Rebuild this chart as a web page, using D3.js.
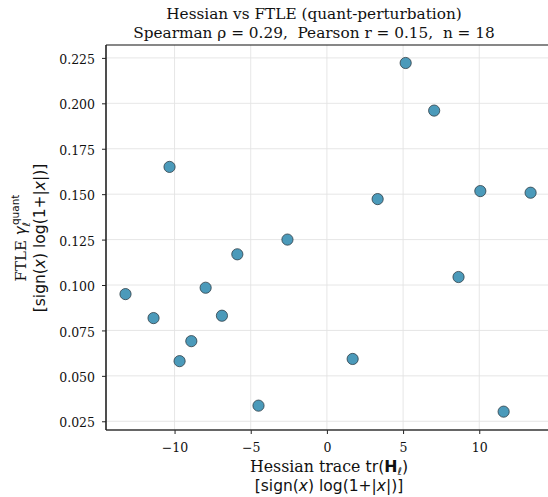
<!DOCTYPE html>
<html>
<head>
<meta charset="utf-8">
<script src="https://cdn.jsdelivr.net/npm/d3@7"></script>
<style>
  body { margin: 0; background: #fff; }
  svg { display: block; }
  text { white-space: pre; }
  .serif { font-family: "DejaVu Serif", serif; }
  .sans { font-family: "DejaVu Sans", sans-serif; }
</style>
</head>
<body>
<svg id="chart"></svg>
<script>
// hessian trace (x) and FTLE (y), both sign(x)log(1+|x|)
var hessTrace = [-13.22, -11.38, -10.33, -9.67, -8.9, -7.96, -6.89, -5.88, -4.49,
                 -2.59, 1.69, 3.33, 5.17, 7.04, 8.64, 10.07, 11.6, 13.37];
var ftle = [0.095, 0.0818, 0.165, 0.0581, 0.0691, 0.0985, 0.0831, 0.1169, 0.0336,
            0.125, 0.0593, 0.1473, 0.2222, 0.196, 0.1044, 0.1517, 0.0303, 0.1508];
var xTicks = [-10, -5, 0, 5, 10];
var yTicks = [0.025, 0.05, 0.075, 0.1, 0.125, 0.15, 0.175, 0.2, 0.225];

var W = 548, H = 497;
var margin = {top: 45, right: -12, bottom: 67, left: 106};
var width = W - margin.left - margin.right,
    height = H - margin.top - margin.bottom;

var svg = d3.select("#chart").attr("width", W).attr("height", H);
var g = svg.append("g").attr("transform", "translate(" + margin.left + "," + margin.top + ")");

var x = d3.scaleLinear().domain([-14.5, 15.3]).range([0, width]);
var y = d3.scaleLinear().domain([0.0202, 0.2321]).range([height, 0]);

// grid
g.append("g").selectAll("line").data(xTicks).enter().append("line")
  .attr("x1", d => x(d)).attr("x2", d => x(d)).attr("y1", 0).attr("y2", height)
  .attr("stroke", "#e3e3e3").attr("stroke-width", 0.9);
g.append("g").selectAll("line").data(yTicks).enter().append("line")
  .attr("y1", d => y(d)).attr("y2", d => y(d)).attr("x1", 0).attr("x2", width)
  .attr("stroke", "#e3e3e3").attr("stroke-width", 0.9);

// axes
var xAxis = d3.axisBottom(x).tickValues(xTicks).tickSize(4).tickPadding(9)
  .tickFormat(d => d < 0 ? "\u2212" + Math.abs(d) : d);
var yAxis = d3.axisLeft(y).tickValues(yTicks).tickSize(4).tickPadding(7)
  .tickFormat(d3.format(".3f"));

var gx = g.append("g").attr("transform", "translate(0," + height + ")").call(xAxis);
var gy = g.append("g").call(yAxis);
[gx, gy].forEach(a => {
  a.select(".domain").remove();
  a.selectAll(".tick line").attr("stroke", "#222").attr("stroke-width", 1);
  a.selectAll(".tick text").attr("class", "serif").attr("font-size", "12.5px").attr("fill", "#111");
});
gy.selectAll(".tick text").attr("dy", "0.45em");

// frame
g.append("line").attr("x1", 0).attr("x2", width).attr("y1", 0).attr("y2", 0)
  .attr("stroke", "#111").attr("stroke-width", 1.2);
g.append("line").attr("x1", 0).attr("x2", width).attr("y1", height).attr("y2", height)
  .attr("stroke", "#333").attr("stroke-width", 1.6);
g.append("line").attr("x1", 0).attr("x2", 0).attr("y1", 0).attr("y2", height)
  .attr("stroke", "#222").attr("stroke-width", 1.6);

// points
g.selectAll(".dot").data(hessTrace).enter().append("circle")
  .attr("class", "dot")
  .attr("cx", d => x(d))
  .attr("cy", (d, i) => y(ftle[i]))
  .attr("r", 5.6)
  .attr("fill", "#4b9aba")
  .attr("stroke", "#2f3d46")
  .attr("stroke-width", 0.8);

// title
svg.append("text").attr("class", "serif").attr("x", 314).attr("y", 19)
  .attr("text-anchor", "middle").attr("font-size", "15.3px").attr("fill", "#111")
  .text("Hessian vs FTLE (quant-perturbation)");
svg.append("text").attr("class", "serif").attr("x", 314).attr("y", 38)
  .attr("text-anchor", "middle").attr("font-size", "15.3px").attr("fill", "#111")
  .text("Spearman \u03c1 = 0.29,  Pearson r = 0.15,  n = 18");

// x label
var xl = svg.append("text").attr("x", 329).attr("y", 472)
  .attr("text-anchor", "middle").attr("font-size", "15.8px").attr("fill", "#111");
xl.append("tspan").attr("class", "serif").text("Hessian trace ");
xl.append("tspan").attr("class", "sans").text("tr(");
xl.append("tspan").attr("class", "sans").attr("font-weight", "bold").text("H");
xl.append("tspan").attr("class", "sans").attr("font-style", "italic").attr("font-size", "10.5px").attr("dy", 3).text("\u2113");
xl.append("tspan").attr("class", "sans").attr("dy", -3).text(")");

var xl2 = svg.append("text").attr("class", "sans").attr("x", 329).attr("y", 491)
  .attr("text-anchor", "middle").attr("font-size", "15.5px").attr("fill", "#111");
xl2.append("tspan").text("[sign(");
xl2.append("tspan").attr("font-style", "italic").text("x");
xl2.append("tspan").text(") log(1+|");
xl2.append("tspan").attr("font-style", "italic").text("x");
xl2.append("tspan").text("|)]");

// y label
var yl = svg.append("text").attr("transform", "translate(26,238) rotate(-90)")
  .attr("text-anchor", "middle").attr("font-size", "15px").attr("fill", "#111");
yl.append("tspan").attr("class", "serif").text("FTLE ");
yl.append("tspan").attr("class", "sans").attr("font-style", "italic").text("\u03b3");
yl.append("tspan").attr("class", "sans").attr("font-style", "italic").attr("font-size", "10.5px").attr("dy", 4).text("\u2113");
yl.append("tspan").attr("class", "sans").attr("font-size", "10.5px").attr("dy", -11).attr("dx", -3).text("quant");

var yl2 = svg.append("text").attr("class", "sans").attr("transform", "translate(45,238) rotate(-90)")
  .attr("text-anchor", "middle").attr("font-size", "15.5px").attr("fill", "#111");
yl2.append("tspan").text("[sign(");
yl2.append("tspan").attr("font-style", "italic").text("x");
yl2.append("tspan").text(") log(1+|");
yl2.append("tspan").attr("font-style", "italic").text("x");
yl2.append("tspan").text("|)]");
</script>
</body>
</html>
